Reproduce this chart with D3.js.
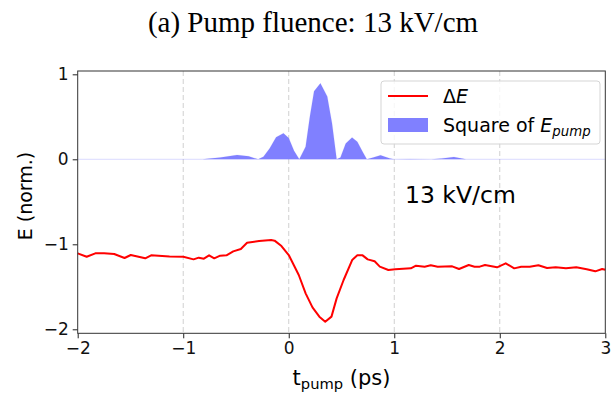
<!DOCTYPE html>
<html>
<head>
<meta charset="utf-8">
<script src="https://cdn.jsdelivr.net/npm/d3@7"></script>
<style>
  body { margin: 0; background: #fff; }
  text { font-family: "DejaVu Sans", sans-serif; }
</style>
</head>
<body>
<svg id="chart" width="613" height="398"></svg>
<script>
// ---- data ----
var xTicks = [-2, -1, 0, 1, 2, 3];
var yTicks = [-2, -1, 0, 1];
var gridTicks = [-1, 0, 1, 2];

// ΔE (red line)
var deltaT = [-2.0, -1.915, -1.833, -1.75, -1.654, -1.556, -1.497, -1.36, -1.304, -1.13, -1.0,
  -0.902, -0.853, -0.804, -0.755, -0.706, -0.65, -0.59, -0.526, -0.454, -0.395, -0.281, -0.167,
  -0.134, -0.069, 0.0, 0.095, 0.16, 0.225, 0.29, 0.346, 0.405, 0.454, 0.52, 0.601, 0.65, 0.70,
  0.748, 0.814, 0.863, 0.944, 1.01, 1.157, 1.206, 1.288, 1.346, 1.412, 1.549, 1.614, 1.706,
  1.761, 1.81, 1.86, 1.974, 2.056, 2.137, 2.203, 2.284, 2.366, 2.448, 2.53, 2.627, 2.725, 2.824,
  2.905, 2.97, 3.0];
var deltaE = [-1.106, -1.146, -1.106, -1.106, -1.114, -1.161, -1.126, -1.165, -1.13, -1.142, -1.146,
  -1.177, -1.157, -1.169, -1.13, -1.165, -1.134, -1.13, -1.083, -1.055, -0.981, -0.961, -0.949,
  -0.957, -1.02, -1.126, -1.361, -1.577, -1.742, -1.851, -1.91, -1.851, -1.636, -1.42, -1.185, -1.13, -1.13,
  -1.177, -1.2, -1.263, -1.302, -1.294, -1.283, -1.251, -1.263, -1.247, -1.263, -1.259, -1.291, -1.244,
  -1.263, -1.263, -1.244, -1.271, -1.224, -1.283, -1.263, -1.263, -1.247, -1.279, -1.271, -1.283, -1.271, -1.294,
  -1.318, -1.291, -1.30];

// Square of E_pump (blue fill)
var pumpT = [-2, -0.82, -0.65, -0.49, -0.38, -0.29, -0.24, -0.18, -0.12, -0.05, 0.0, 0.05, 0.10,
  0.16, 0.20, 0.24, 0.30, 0.365, 0.41, 0.454, 0.49, 0.54, 0.60, 0.65, 0.70, 0.74, 0.80, 0.87,
  0.96, 1.0, 1.15, 1.35, 1.45, 1.565, 1.68, 3];
var pumpV = [0, 0, 0.02, 0.05, 0.035, 0, 0.03, 0.129, 0.26, 0.306, 0.25, 0.10, 0,
  0.148, 0.50, 0.80, 0.894, 0.74, 0.425, 0, 0.02, 0.186, 0.257, 0.206, 0.09, 0, 0.02, 0.047,
  0.01, 0, 0.005, 0, 0.01, 0.026, 0, 0];

var svg = d3.select("#chart");

// plot box
var pLeft = 77.7, pRight = 605.3, pTop = 71, pBottom = 333.3;

var x = d3.scaleLinear().domain([-2, 3]).range([pLeft, pRight]);
var y = d3.scaleLinear().domain([-2.047, 1.039]).range([pBottom, pTop]);

function minus(d) { return d < 0 ? "\u2212" + Math.abs(d) : d; }

// title
svg.append("text")
    .attr("x", 313)
    .attr("y", 32)
    .attr("text-anchor", "middle")
    .style("font-family", "'Liberation Serif', 'Times New Roman', serif")
    .style("font-size", "29px")
    .text("(a) Pump fluence: 13 kV/cm");

// vertical dashed grid
svg.append("g")
    .selectAll("line")
    .data(gridTicks)
    .enter()
    .append("line")
    .attr("x1", function (d) { return x(d); })
    .attr("x2", function (d) { return x(d); })
    .attr("y1", pTop)
    .attr("y2", pBottom)
    .attr("stroke", "#d0d0d0")
    .attr("stroke-width", 1)
    .attr("stroke-dasharray", "5,3");

// pump fill
var pumpData = pumpT.map(function (t, i) { return [t, pumpV[i]]; });
var area = d3.area()
    .x(function (d) { return x(d[0]); })
    .y0(y(0))
    .y1(function (d) { return y(d[1]); });
svg.append("path")
    .datum(pumpData)
    .attr("d", area)
    .attr("fill", "#8080ff")
    .attr("stroke", "#8080ff")
    .attr("stroke-opacity", 0.25)
    .attr("stroke-width", 0.6);

// ΔE line
var lineData = deltaT.map(function (t, i) { return [t, deltaE[i]]; });
var line = d3.line()
    .x(function (d) { return x(d[0]); })
    .y(function (d) { return y(d[1]); });
svg.append("path")
    .datum(lineData)
    .attr("d", line)
    .attr("fill", "none")
    .attr("stroke", "#ff0000")
    .attr("stroke-width", 2)
    .attr("stroke-linejoin", "round");

// axes
var xAxis = d3.axisBottom(x).tickValues(xTicks).tickSize(5).tickPadding(4).tickFormat(minus);
var yAxis = d3.axisLeft(y).tickValues(yTicks).tickSize(5).tickPadding(4).tickFormat(minus);

var gx = svg.append("g").attr("transform", "translate(0," + pBottom + ")").call(xAxis);
var gy = svg.append("g").attr("transform", "translate(" + pLeft + ",0)").call(yAxis);
[gx, gy].forEach(function (g) {
    g.select(".domain").remove();
    g.selectAll(".tick line").attr("stroke", "#222");
    g.selectAll(".tick text")
        .style("font-family", "'DejaVu Sans', sans-serif")
        .style("font-size", "17px")
        .attr("fill", "#111");
});

// frame
svg.append("rect")
    .attr("x", pLeft)
    .attr("y", pTop)
    .attr("width", pRight - pLeft)
    .attr("height", pBottom - pTop)
    .attr("fill", "none")
    .attr("stroke", "#333")
    .attr("stroke-width", 1);

// axis labels
var xl = svg.append("text")
    .attr("x", (pLeft + pRight) / 2)
    .attr("y", 385)
    .attr("text-anchor", "middle")
    .style("font-size", "21px");
xl.append("tspan").text("t");
xl.append("tspan").attr("dy", 4).style("font-size", "14.7px").text("pump");
xl.append("tspan").attr("dy", -4).text(" (ps)");

svg.append("text")
    .attr("transform", "translate(32,196) rotate(-90)")
    .attr("text-anchor", "middle")
    .style("font-size", "19px")
    .text("E (norm.)");

// annotation
svg.append("text")
    .attr("x", 405)
    .attr("y", 203)
    .style("font-size", "23.5px")
    .text("13 kV/cm");

// legend
var lg = svg.append("g");
lg.append("rect")
    .attr("x", 381)
    .attr("y", 81)
    .attr("width", 219)
    .attr("height", 63)
    .attr("rx", 3)
    .attr("fill", "#fff")
    .attr("fill-opacity", 0.8)
    .attr("stroke", "#d5d5d5");
lg.append("line")
    .attr("x1", 388).attr("x2", 428)
    .attr("y1", 96).attr("y2", 96)
    .attr("stroke", "#ff0000")
    .attr("stroke-width", 2);
var t1 = lg.append("text").attr("x", 443).attr("y", 103).style("font-size", "19px");
t1.append("tspan").text("\u0394");
t1.append("tspan").style("font-style", "italic").text("E");
lg.append("rect")
    .attr("x", 388).attr("y", 118)
    .attr("width", 40).attr("height", 14)
    .attr("fill", "#8080ff");
var t2 = lg.append("text").attr("x", 443).attr("y", 132).style("font-size", "19px");
t2.append("tspan").text("Square of ");
t2.append("tspan").style("font-style", "italic").text("E");
t2.append("tspan").attr("dy", 4).style("font-style", "italic").style("font-size", "13.3px").text("pump");
</script>
</body>
</html>
